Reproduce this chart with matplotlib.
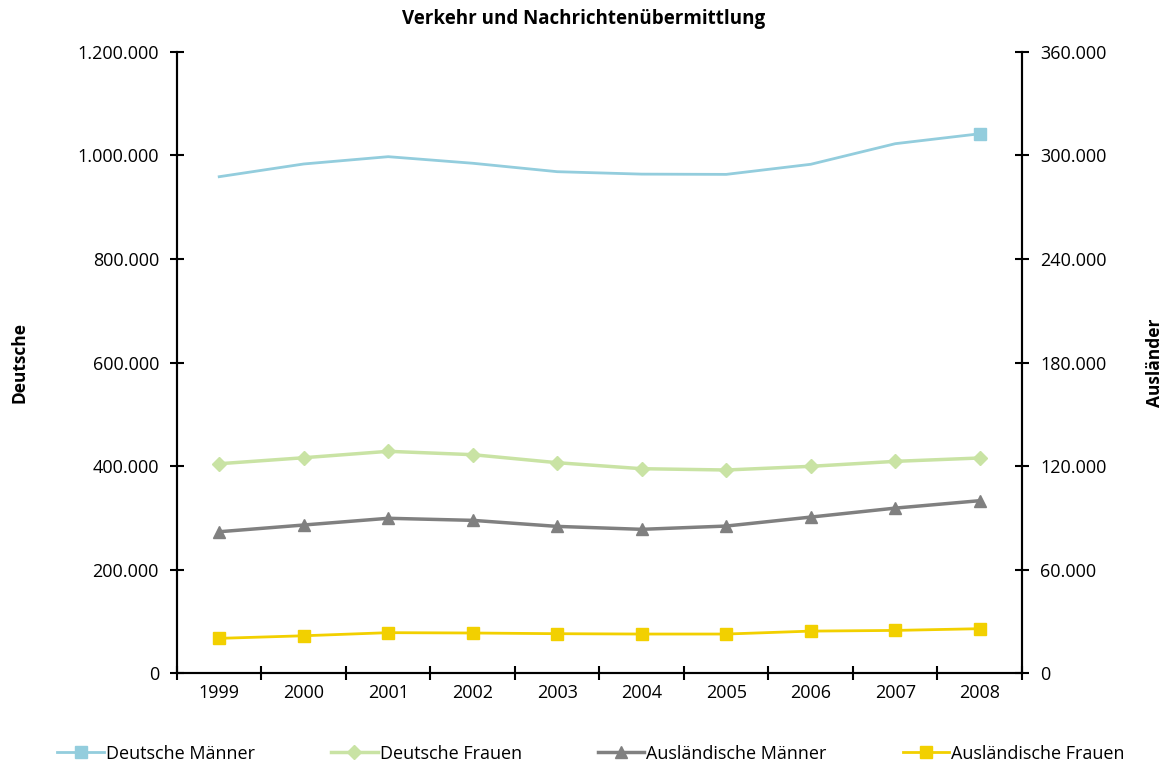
import numpy as np
import matplotlib.pyplot as plt
from matplotlib.ticker import FuncFormatter, FixedLocator

plt.rcParams["font.family"] = ["Open Sans", "DejaVu Sans"]

years = ["1999", "2000", "2001", "2002", "2003", "2004", "2005", "2006", "2007", "2008"]

# left axis (Deutsche)
deutsche_maenner = [959000, 983600, 997700, 985000, 968700, 964000, 963500, 983000, 1022800, 1042000]
deutsche_frauen = [404400, 416000, 428400, 421900, 406400, 394800, 392300, 399400, 409000, 415500]

# right axis (Ausländer)
auslaend_maenner = [81900, 85800, 89700, 88500, 85000, 83300, 85200, 90400, 95600, 99900]
auslaend_frauen = [20100, 21600, 23400, 23200, 22800, 22600, 22600, 24300, 24700, 25700]

C_DM = "#93cddd"
C_DF = "#c9e3a4"
C_AM = "#808080"
C_AF = "#f2d000"


def de_fmt(v, pos):
    return f"{int(round(v)):,}".replace(",", ".")


fig = plt.figure(figsize=(11.68, 7.69), dpi=100)
ax = fig.add_axes([0.1515, 0.1248, 0.7235, 0.8076])
ax2 = ax.twinx()

x = np.arange(len(years))

ln1, = ax.plot(x, deutsche_maenner, color=C_DM, lw=2, marker="s", ms=8,
               markevery=[len(years) - 1], label="Deutsche Männer")
ln2, = ax.plot(x, deutsche_frauen, color=C_DF, lw=2.5, marker="D", ms=7,
               label="Deutsche Frauen")
ln3, = ax2.plot(x, auslaend_maenner, color=C_AM, lw=2.5, marker="^", ms=9,
                label="Ausländische Männer")
ln4, = ax2.plot(x, auslaend_frauen, color=C_AF, lw=2, marker="s", ms=8,
                label="Ausländische Frauen")

ax.set_xlim(-0.5, len(years) - 0.5)
ax.set_ylim(0, 1200000)
ax2.set_ylim(0, 360000)
ax.yaxis.set_major_locator(FixedLocator(np.arange(0, 1200001, 200000)))
ax2.yaxis.set_major_locator(FixedLocator(np.arange(0, 360001, 60000)))
ax.yaxis.set_major_formatter(FuncFormatter(de_fmt))
ax2.yaxis.set_major_formatter(FuncFormatter(de_fmt))

ax.xaxis.set_major_locator(FixedLocator(np.arange(-0.5, len(years), 1.0)))
ax.set_xticklabels([])
ax.set_xticks(x, minor=True)
ax.set_xticklabels(years, minor=True)

for a in (ax, ax2):
    a.spines["top"].set_visible(False)
    for s in a.spines.values():
        s.set_linewidth(1.5)
ax.tick_params(axis="both", which="major", direction="inout", length=10, width=1.5,
               labelsize=13)
ax.tick_params(axis="x", which="minor", length=0, labelsize=13, pad=8)
ax2.tick_params(axis="y", which="major", direction="inout", length=10, width=1.5,
                labelsize=13, pad=8)
ax.tick_params(axis="y", pad=8)

ax.set_ylabel("Deutsche", fontsize=12.5, fontweight="bold")
ax.yaxis.set_label_coords(-0.176, 0.5)
ax2.set_ylabel("Ausländer", fontsize=12.5, fontweight="bold", rotation=90)
ax2.yaxis.set_label_coords(1.147, 0.5)

fig.suptitle("Verkehr und Nachrichtenübermittlung", fontsize=13.5, fontweight="bold",
             y=0.988)

fig.legend(handles=[ln1, ln2, ln3, ln4], loc="lower center", ncol=4,
           bbox_to_anchor=(0.506, -0.013), frameon=False, fontsize=13,
           columnspacing=4.2, handlelength=2.6, handletextpad=0.1)

fig.savefig("out.png", dpi=100)
